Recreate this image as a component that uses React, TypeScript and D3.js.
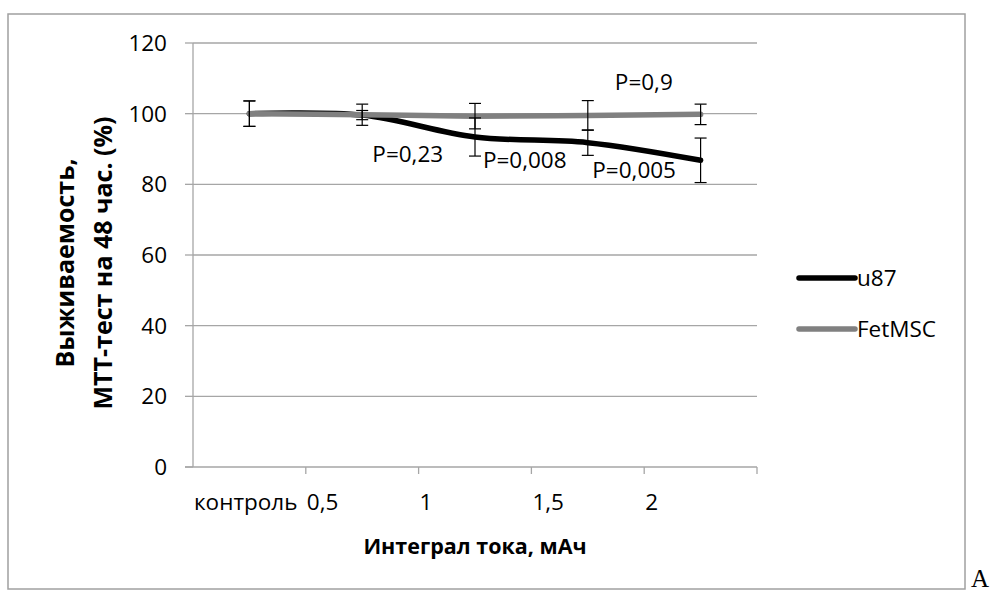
import React from "react";
import * as d3 from "d3";

const categories = ["контроль", "0,5", "1", "1,5", "2"];
const u87Values = [100, 99.6, 93.4, 91.8, 86.8];
const u87Errors = [3.6, 1.3, 5.4, 3.6, 6.3];
const fetValues = [100, 99.7, 99.3, 99.5, 99.8];
const fetErrors = [3.6, 3.0, 3.6, 4.2, 2.9];
const yTicks = [0, 20, 40, 60, 80, 100, 120];
const pLabels = ["P=0,23", "P=0,008", "P=0,005", "P=0,9"];
const pLabelPos = [
  { i: 1.09, v: 86.4 },
  { i: 2.07, v: 84.5 },
  { i: 3.04, v: 81.7 },
  { i: 3.24, v: 106.6 },
];
const seriesNames = ["u87", "FetMSC"];
const seriesColors = ["#000000", "#808080"];

const W = 998;
const H = 592;
const m = { left: 193, right: 757, top: 43, bottom: 467 };
const FONT = "'Open Sans', 'Noto Sans', sans-serif";
const FS = 22.5;

export default function App() {
  const x = d3.scaleBand<string>().domain(categories).range([m.left, m.right]);
  const xc = (i: number) => (x(categories[0]) as number) + x.bandwidth() * (i + 0.5);
  const y = d3.scaleLinear().domain([0, 120]).range([m.bottom, m.top]);
  const line = d3
    .line<number>()
    .x((_, i) => xc(i))
    .y((d) => y(d))
    .curve(d3.curveCatmullRom.alpha(0.5));

  const series = [
    { vals: u87Values, errs: u87Errors, color: seriesColors[0] },
    { vals: fetValues, errs: fetErrors, color: seriesColors[1] },
  ];
  const cap = 6;
  const grid = "#a6a6a6";

  return (
    <svg
      width={W}
      height={H}
      style={{ position: "absolute", left: 0, top: 0 }}
      fontFamily={FONT}
    >
      <rect x={0} y={0} width={W} height={H} fill="#fff" />
      <rect x={8} y={14} width={957} height={575} fill="#fff" stroke="#a0a0a0" strokeWidth={1.5} />
      <text x={971} y={587} fontFamily="'Liberation Serif', serif" fontSize={25} fill="#000">
        A
      </text>

      {yTicks.map((t) => (
        <g key={t}>
          {t > 0 && (
            <line x1={m.left} x2={m.right} y1={y(t)} y2={y(t)} stroke={grid} strokeWidth={1.3} />
          )}
          <line x1={m.left - 8} x2={m.left} y1={y(t)} y2={y(t)} stroke={grid} strokeWidth={1.3} />
          <text x={167} y={y(t)} dy="0.35em" textAnchor="end" fontSize={FS} fill="#000">
            {t}
          </text>
        </g>
      ))}
      <line x1={m.left} x2={m.left} y1={m.top} y2={m.bottom} stroke={grid} strokeWidth={1.3} />
      <line x1={m.left - 8} x2={m.right} y1={m.bottom} y2={m.bottom} stroke={grid} strokeWidth={1.3} />
      {categories.map((c) => (
        <line
          key={c}
          x1={(x(c) as number) + x.bandwidth()}
          x2={(x(c) as number) + x.bandwidth()}
          y1={m.bottom}
          y2={m.bottom + 7}
          stroke={grid}
          strokeWidth={1.3}
        />
      ))}
      {categories.map((c) => (
        <text key={c} x={(x(c) as number) + 1} y={502} dy="0.35em" fontSize={FS} fill="#000">
          {c}
        </text>
      ))}
      <text x={475} y={546} textAnchor="middle" dy="0.35em" fontSize={21.5} fontWeight="bold" fill="#000">
        Интеграл тока, мАч
      </text>
      <g transform="translate(84,263) rotate(-90)">
        <text x={0} y={-19} dy="0.35em" textAnchor="middle" fontSize={25} fontWeight="bold" fill="#000">
          Выживаемость,
        </text>
        <text x={0} y={19} dy="0.35em" textAnchor="middle" fontSize={25} fontWeight="bold" fill="#000">
          МТТ-тест на 48 час. (%)
        </text>
      </g>

      {series.map((s, k) => (
        <path
          key={k}
          d={line(s.vals) || ""}
          fill="none"
          stroke={s.color}
          strokeWidth={5.5}
          strokeLinecap="round"
          strokeLinejoin="round"
        />
      ))}
      {series.map((s, k) =>
        s.vals.map((v, i) => (
          <g key={`${k}-${i}`} stroke="#000" strokeWidth={1.2}>
            <line x1={xc(i)} x2={xc(i)} y1={y(v - s.errs[i])} y2={y(v + s.errs[i])} />
            <line x1={xc(i) - cap} x2={xc(i) + cap} y1={y(v - s.errs[i])} y2={y(v - s.errs[i])} />
            <line x1={xc(i) - cap} x2={xc(i) + cap} y1={y(v + s.errs[i])} y2={y(v + s.errs[i])} />
          </g>
        ))
      )}

      {pLabels.map((p, k) => (
        <text key={p} x={xc(pLabelPos[k].i)} y={y(pLabelPos[k].v)} fontSize={FS} fill="#000">
          {p}
        </text>
      ))}

      {seriesNames.map((n, k) => (
        <g key={n}>
          <line
            x1={799}
            x2={855}
            y1={278 + k * 51}
            y2={278 + k * 51}
            stroke={seriesColors[k]}
            strokeWidth={5.5}
            strokeLinecap="round"
          />
          <text x={857} y={278 + k * 51} dy="0.35em" fontSize={FS} fill="#000">
            {n}
          </text>
        </g>
      ))}
    </svg>
  );
}
